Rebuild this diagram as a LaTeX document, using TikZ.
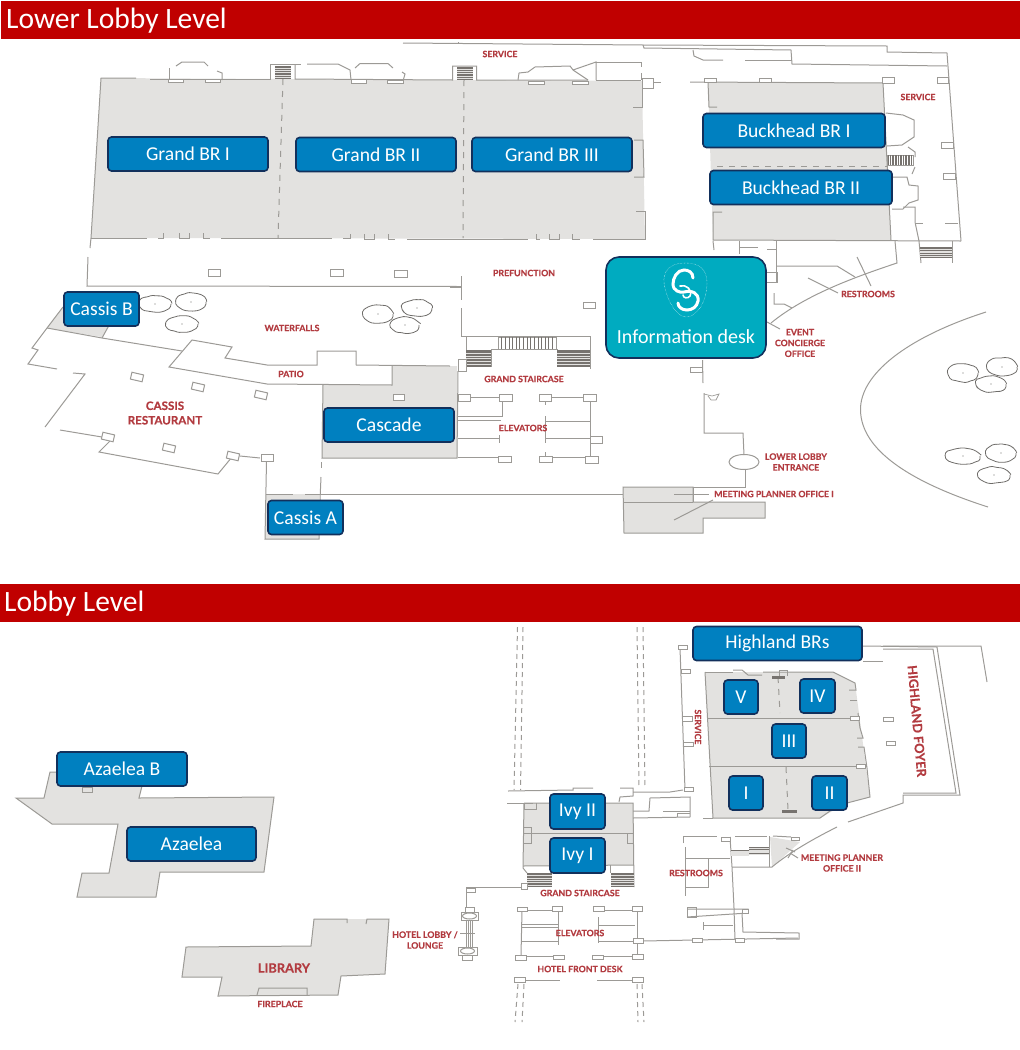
\documentclass[tikz,border=0pt]{standalone}
\usepackage{fontspec}
\setmainfont{Carlito}
\newfontfamily\tagfont{Lato}[BoldFeatures={FakeBold=0.5}]
\usetikzlibrary{decorations.pathmorphing}
\definecolor{bannerred}{HTML}{C00000}
\definecolor{roomblue}{HTML}{0080C0}
\definecolor{roomedge}{HTML}{12305C}
\definecolor{infoteal}{HTML}{00ABC0}
\definecolor{wallgrey}{HTML}{9C9A96}
\definecolor{treegrey}{HTML}{6E6C69}
\definecolor{hallgrey}{HTML}{E3E2E0}
\definecolor{stairgrey}{HTML}{77736F}
\definecolor{tagred}{HTML}{B23B40}
\tikzset{
  banner/.style={fill=bannerred},
  bannertext/.style={text=white,anchor=west,inner sep=0pt,font=\fontsize{29.5}{32}\selectfont},
  room/.style={draw=roomedge,fill=roomblue,line width=1.6pt,rounded corners=3.5pt,text=white,inner sep=0pt,font=\fontsize{19.6}{22}\selectfont},
  hall/.style={fill=hallgrey},
  wall/.style={draw=wallgrey,line width=1pt},
  dashwall/.style={wall,dash pattern=on 6pt off 6pt},
  rail/.style={wall,dash pattern=on 5pt off 4pt},
  post/.style={wall,fill=white},
  tiltpost/.style={draw=wallgrey,line width=1pt,fill=white,minimum width=12pt,minimum height=7pt,inner sep=0pt,rotate=-13},
  tag/.style={text=tagred,inner sep=0pt,align=center,font=\fontsize{8.8}{10.8}\tagfont\bfseries},
  bigtag/.style={tag,font=\fontsize{12.8}{15}\tagfont\bfseries},
}
\newcommand{\stairsh}[4]{%
  \fill[stairgrey] (#1,#2) rectangle (#3,#4);
  \foreach \t in {0.17,0.34,0.5,0.67,0.84}{\draw[hallgrey,line width=0.3pt] (#1,{#2+\t*(#4-#2)}) -- (#3,{#2+\t*(#4-#2)});}}
\newcommand{\stairsv}[4]{%
  \draw[wall] (#1,#2) rectangle (#3,#4);
  \foreach \t in {1,...,15}{\draw[stairgrey,line width=0.7pt] ({#1+\t*(#3-#1)/16},#2) -- ({#1+\t*(#3-#1)/16},#4);}}
\newcommand{\tree}[4]{%
  \draw[draw=treegrey,line width=0.8pt,rounded corners=1.5pt,decorate,decoration={random steps,segment length=4pt,amplitude=0.7pt}] (#1,#2) ellipse (#3 and #4);
  \fill[treegrey] (#1,#2) circle (0.7);}
\begin{document}
\begin{tikzpicture}[x=1pt,y=-1pt]
\useasboundingbox (0,0) rectangle (1020,1050);
% banners
\fill[banner] (1,1) rectangle (1020,39);
\fill[banner] (0,584) rectangle (1020,622);
\node[bannertext] (lowertitle) at (6,21) {Lower Lobby Level};
\node[bannertext] (lobbytitle) at (4,604) {Lobby Level};
% grey rooms, lower level
\fill[hall] (101,78) -- (642,81) -- (645,239) -- (91,238) -- cycle;
\fill[hall] (708,82) -- (883,83) -- (891,240) -- (713,240) -- cycle;
\fill[hall] (323,385) -- (392,385) -- (392,366) -- (457,366) -- (457,458) -- (322,458) -- cycle;
\fill[hall] (63,307) -- (47,328) -- (102,337) -- (112,320) -- cycle;
\fill[hall] (266,494) -- (319,494) -- (319,539) -- (265,539) -- cycle;
\draw[wall,hall] (623,487) -- (693,487) -- (693,502) -- (765,502) -- (765,518) -- (703,518) -- (703,533) -- (624,533) -- cycle;
% grand ballroom
\draw[wall] (136,78) -- (101,78) -- (91,238) -- (90,248);
\draw[wall] (88,257) -- (87,286) -- (461,286.5);
\draw[wall] (150,79) -- (270.5,79) -- (270.5,64) -- (301,64);
\draw[wall] (295,64) -- (295,79) -- (452.5,80) -- (452.5,66) -- (476.5,66) -- (476.5,80) -- (588,80);
\draw[wall] (91,238) -- (147,238);
\draw[wall] (163,233) -- (163,238) -- (158,238);
\draw[wall] (179,233) -- (179,238) -- (189,238) -- (189,233);
\draw[wall] (203,233) -- (203,238) -- (210,238);
\draw[wall] (221,238) -- (332,238);
\draw[wall] (350,234) -- (350,238) -- (343,238);
\draw[wall] (364,234) -- (364,239) -- (374,239) -- (374,234);
\draw[wall] (388,234) -- (388,239) -- (395,239);
\draw[wall] (407,239) -- (528,239);
\draw[wall] (536,234) -- (536,239) -- (540,239);
\draw[wall] (549,234) -- (549,239) -- (559,239) -- (559,234);
\draw[wall] (572,234) -- (572,239) -- (580,239);
\draw[wall] (593,239) -- (645,239) -- (645,211) -- (636,211);
\draw[wall] (634,140) -- (643,140) -- (644,177) -- (634,177);
\draw[wall] (642,88) -- (642,107) -- (633,107);
\draw[wall] (596,80) -- (641,80);
\draw[wall] (653,82) -- (661,82);
\draw[dashwall] (283,79) -- (278,238);
\draw[dashwall] (464,80) -- (463,238);
\stairsh{275}{66}{291}{79}
\stairsh{457}{67}{473}{80}
% ballroom doors
\draw[wall] (169,79) -- (169,68);
\draw[wall] (176,66) -- (182,62) -- (204,62) -- (208,66);
\draw[wall] (217,71) -- (222,73) -- (222,80);
\draw[wall] (307,64) -- (338,64) -- (350,70) -- (351,80);
\draw[wall] (355,68) -- (360,63.5) -- (388,63.5) -- (393,68);
\draw[wall] (402,72) -- (405,74) -- (403,81);
\draw[wall] (518,80) -- (519,73) -- (528,72) -- (535,67) -- (570,66) -- (573,70) -- (588,80);
\draw[wall] (573,70) -- (596,62) -- (596,80);
\draw[wall] (596,62) -- (641,62) -- (641,67);
\draw[wall] (641,73) -- (641,80);
% service corridor along the top
\draw[wall] (403,43) -- (643,45) -- (644,48) -- (791,50) -- (792,64) -- (947,66);
\draw[wall] (458,42) -- (458,44);
\draw[wall] (643,45) -- (887,46) -- (887,52) -- (947,53) -- (961,241);
\draw[wall] (693,50) -- (694,56) -- (703,60) -- (723,60);
\draw[wall] (745,60) -- (792,60);
% buckhead
\draw[wall] (690,82) -- (883,83) -- (891,240);
\draw[wall] (708,82) -- (709,107) -- (717,107);
\draw[wall] (722,212) -- (713,212) -- (713,240) -- (961,241);
\draw[dashwall] (717,166) -- (887,166);
\draw[wall] (886,113) -- (903,115) -- (914,120) -- (914,137) -- (902,145) -- (887,146);
\draw[wall] (908,147) -- (915,152) -- (915,157);
\stairsv{887}{155}{913}{165}
\draw[wall] (915,167) -- (912,174);
\draw[wall] (893,177) -- (907,177) -- (909,185) -- (918,186) -- (918,200) -- (909,203) -- (903,209) -- (892,209);
\draw[wall] (903,207) -- (915,207) -- (915,222) -- (919,241) -- (921,263);
\draw[wall] (915,223) -- (923,223);
\draw[wall] (945,223) -- (958,223);
\draw[wall] (952,241) -- (952,263);
\stairsh{920}{247}{952}{258}
% restrooms and the curved wall
\draw[wall] (713,241) -- (714,250);
\draw[wall] (739,241) -- (739,254);
\draw[wall] (739,247) -- (758,247);
\draw[wall] (767,249) -- (776,249);
\draw[wall] (776,241) -- (776,282);
\draw[wall] (767,272) -- (777,272) -- (777,282) -- (767,282);
\draw[wall] (777,266) -- (837,266) -- (855,277);
\draw[wall] (895,241) -- (897,263) .. controls (855,277) and (805,295) .. (771,323);
\draw[wall] (774,293) -- (774,304) -- (784,304) -- (792,308);
\draw[wall] (767,322) -- (780,329);
\draw[wall] (857,257) -- (871,286);
\draw[wall] (808,278) -- (838,293);
% grand staircase and elevators
\draw[wall] (461,276) -- (461,300);
\draw[wall] (450,287) -- (461,287);
\draw[wall] (461,308) -- (461,336) -- (590,336) -- (590,369);
\draw[wall] (466,336) -- (466,369);
\draw[wall] (491,349) -- (491,367);
\draw[wall] (491,349) -- (557,349) -- (557,367);
\stairsv{498}{337}{556}{349}
\stairsh{466}{350}{491}{367}
\stairsh{557}{350}{590}{367}
\draw[wall] (458,371) -- (457,458) -- (322,458) -- (323,385);
\draw[wall] (356,365) -- (450,366);
\draw[wall] (470,397) -- (499,397);
\draw[wall] (551,397) -- (583,397);
\draw[wall] (502,401) -- (502,416) -- (458,416);
\draw[wall] (458,420) -- (501,420);
\draw[wall] (458,438) -- (499,438);
\draw[wall] (499,435) -- (499,443);
\draw[wall] (458,457) -- (499,457);
\draw[wall] (545,401) -- (545,405);
\draw[wall] (545,416) -- (545,443);
\draw[wall] (545,421) -- (590,421);
\draw[wall] (545,438) -- (590,438);
\draw[wall] (590,401) -- (590,456);
\draw[wall] (545,452) -- (545,456);
\draw[wall] (552,457) -- (585,457);
% patio and waterfalls
\draw[wall] (356,365) -- (356,351) -- (317,351) -- (317,365) -- (267,365) -- (225,358) -- (232,347) -- (192,340) -- (169,367) -- (267,384) -- (392,385) -- (392,366);
\draw[wall] (47,328) -- (102,338) -- (182,351);
\draw[wall] (102,338) -- (112,320);
\draw[wall] (63,307) -- (47,328) -- (32,348) -- (38,350) -- (28,364) -- (57,369);
\draw[wall] (73,373) -- (85,374) -- (45,427);
\draw[wall] (60,430) -- (102,437);
\draw[wall] (110,441) -- (99,452) -- (218,474) -- (232,457);
\draw[wall] (240,456) -- (260,458);
\draw[wall] (266.5,461) -- (265,539) -- (319,539) -- (319,500);
\draw[wall] (266,494) -- (293,494);
\draw[wall] (305,494) -- (623,494);
\draw[wall] (321,462) -- (321,468);
\draw[wall] (321,477) -- (320,500);
\node[tiltpost] (pillara) at (137,377) {};
\node[tiltpost] (pillarb) at (198,387) {};
\node[tiltpost] (pillarc) at (261,395) {};
\node[tiltpost] (pillard) at (169,448) {};
\node[tiltpost] (pillare) at (108,437) {};
\node[tiltpost] (pillarf) at (233,456) {};
% lobby entrance
\draw[wall] (702.5,360) -- (703,383);
\draw[wall] (704,393) -- (704,433) -- (743,433) -- (744,455);
\draw[wall] (745,469) -- (745,487) -- (693,487);
\draw[wall] (744,462) ellipse (15 and 7.5);
\draw[wall,line width=0.7pt] (704,394) -- (712,396) -- (719,394) -- (716,400) -- (711,400) -- (708,396);
\draw[wall] (623,502) -- (693,502);
\draw[wall] (693,487) -- (693,502);
\draw[wall] (674,494) -- (709,494);
\draw[wall] (713,500) -- (674,520);
% driveway
\draw[wall] (986,312) .. controls (905,338) and (860,375) .. (860.5,410) .. controls (861,450) and (910,482) .. (988,507);
% small boxes, lower level
\foreach \xa/\ya/\xb/\yb in {168/79/183/82,205/79/220/82,351/79.5/366/83,387/80/403/83,528/81/544/84,572/81/588/84,642/78/653/88,
  208/269/220/276,330/269/343/276,394/270/407/277,583/302/595/308,704/78/716/82,759/78/771/82,882/77/894/83,937/77/948/83,941/142/953/148,943/173/955/179,
  393/394/404/400,458/359/466/371,458/394/470/401,499/394/512/401,539/394/551/401,583/394/596/401,590.5/436/602.5/443,498.5/456/511/462,539/456/552/462,585/456/598/463,
  690/367/702/372,261/454/273/461}
  \draw[post] (\xa,\ya) rectangle (\xb,\yb);
% trees
\tree{155}{304}{16}{8}
\tree{191}{302}{15}{9}
\tree{182}{324}{16}{8}
\tree{378}{314}{15}{9}
\tree{417}{308}{15}{8}
\tree{405}{325}{14}{8}
\tree{963}{373}{15}{9}
\tree{1002}{367}{15}{9}
\tree{991}{384}{15}{8}
\tree{963}{456}{17}{8}
\tree{1001}{453}{15}{9}
\tree{994}{475}{16}{8}
% lower level labels
\node[tag] (service1) at (500,54) {SERVICE};
\node[tag] (service2) at (918,97) {SERVICE};
\node[tag] (prefunction) at (524,273) {PREFUNCTION};
\node[tag] (waterfalls) at (292,328) {WATERFALLS};
\node[tag] (patio) at (291,374) {PATIO};
\node[bigtag,font=\fontsize{11.6}{14.5}\tagfont\bfseries] (cassisrest) at (165,413) {CASSIS\\RESTAURANT};
\node[tag] (staircase1) at (524,379) {GRAND STAIRCASE};
\node[tag] (elevators1) at (523,428) {ELEVATORS};
\node[tag] (restrooms1) at (868,294) {RESTROOMS};
\node[tag] (eventoffice) at (800,343) {EVENT\\CONCIERGE\\OFFICE};
\node[tag] (entrance) at (796,462) {LOWER LOBBY\\ENTRANCE};
\node[tag,anchor=west] (plannerone) at (714,494) {MEETING PLANNER OFFICE I};
% grey rooms, lobby level
\draw[wall,hall] (16,798) -- (44,798) -- (50,772) -- (60,772) -- (60,786) -- (142,786) -- (139,798) -- (274,797) -- (264,872) -- (160,872) -- (156,897) -- (77,897) -- (82,873) -- (109,873) -- (118,824) -- (52,824) -- cycle;
\fill[hall] (186,947) -- (311,946) -- (314,919) -- (389,919) -- (385,974) -- (341,976) -- (338,995) -- (218,996) -- (222,977) -- (182,977) -- cycle;
\draw[wall] (347,923) -- (347,919) -- (314,919) -- (311,946) -- (186,947) -- (182,977) -- (222,977) -- (218,996) -- (338,995) -- (341,976) -- (385,974) -- (389,919) -- (367,919) -- (366,924);
\draw[wall] (257,995) -- (259,988) -- (307,988) -- (307,995);
\draw[post,fill=hallgrey] (82,787) rectangle (92,792);
\fill[hall] (524,803) -- (633,803) -- (634,865) -- (523,866) -- cycle;
\fill[hall] (705,672) -- (833,672) -- (855,683) -- (870,797) -- (847,803) -- (820,818) -- (713,818) -- cycle;
\fill[hall] (770,837) -- (800,842) -- (772,867) -- cycle;
% hotel lobby column
\draw[wall] (510,887) -- (466,887) -- (466,907);
\draw[post] (466,888) rectangle (475,892);
\draw[post] (465,907) rectangle (474,913);
\draw[post] (461,912) rectangle (478,920);
\draw[wall] (469.5,916) ellipse (7 and 3);
\foreach \xb in {466,468,470,472}{\draw[wall] (\xb,920) -- (\xb,947);}
\draw[wall] (460,933) -- (475,933);
\draw[post] (458,947) rectangle (477,955);
\draw[wall] (467.5,951) ellipse (7 and 3);
\draw[post] (462,955) rectangle (472,960);
% rails
\draw[rail] (517.5,627) -- (514,790);
\draw[rail] (523,627) -- (520.5,790);
\draw[rail] (637,627) -- (639,788);
\draw[rail] (643,627) -- (645,788);
\draw[rail] (518,984) -- (515,1022);
\draw[rail] (524,984) -- (522,1022);
\draw[rail] (637,984) -- (638,1022);
\draw[rail] (642,984) -- (644,1022);
% ivy rooms
\draw[wall] (508,791) -- (573,790) -- (573,788) -- (593,788);
\draw[wall] (507,803) -- (533,803);
\draw[wall] (524,803) -- (523,868) -- (527,873);
\draw[wall] (524,803) -- (633,803) -- (634,887);
\draw[wall] (524,833) -- (633,833);
\draw[wall] (523,827) -- (531,827) -- (531,843) -- (523,843);
\draw[wall] (524,803) -- (524,809) -- (536,809) -- (536,803);
\draw[wall] (627,833) -- (627,843) -- (633,843);
\draw[wall] (523,866) -- (634,865);
\draw[wall] (610,865) -- (610,873);
\stairsh{527}{873}{552}{887}
\stairsh{611}{873}{634}{887}
\draw[wall] (522,887) -- (466,887);
\draw[post] (521,883) rectangle (527,889);
\draw[wall] (633,811) -- (649,811) -- (650,798) -- (690,797) -- (690,817);
\draw[wall] (633,818) -- (690,817);
\draw[wall] (619,802) -- (620,797) -- (633,796) -- (633,788) -- (620,788);
\draw[wall] (633,792) -- (670,792) -- (683,790);
\draw[wall] (663,811) -- (690,811);
\draw[wall] (677,817) -- (677,813) -- (690,813);
\draw[wall] (680,648) -- (685,790);
\draw[wall] (703,818) -- (713,818);
% highland ballrooms
\draw[wall] (705,672) -- (713,818) -- (820,818) -- (830,811) -- (847,803) -- (870,797) -- (867,768) -- (864,747) -- (858,747);
\draw[wall] (705,672) -- (733,672);
\draw[wall] (733,670) -- (742,670) -- (748,675) -- (762,675);
\draw[wall] (763,672) -- (833,672) -- (855,683) -- (856,690) -- (849,690);
\draw[wall] (857,700) -- (850,700);
\draw[wall] (858,713) -- (860,728) -- (863,738) -- (857,738);
\draw[wall] (707,718) -- (860,718);
\draw[wall] (709,766) -- (867,766);
\draw[dashwall] (778,677) -- (780,713);
\draw[dashwall] (786,767) -- (788,810);
\fill[stairgrey] (772,676) rectangle (785,678.5);
\fill[stairgrey] (782,810) rectangle (797,813);
\draw[wall] (779,676) -- (779,670) -- (787,670) -- (787,676);
% highland foyer
\draw[wall] (863,646) -- (937,647) -- (960,795) -- (903,795) -- (903,803) -- (848,822);
\draw[wall] (883,649) -- (933,649) -- (956,793) -- (903,793);
\draw[wall] (883,646) -- (981,646) -- (987,682);
\draw[wall] (863,661) -- (883,661);
\draw[wall] (837,827) .. controls (815,838) and (790,852) .. (772,867) -- (732,867);
% meeting planner and restrooms
\draw[wall] (683,843) -- (683,836) -- (717,836);
\draw[wall] (735,836) -- (767,836);
\draw[wall] (773,836) -- (791,837);
\draw[wall] (769,836) -- (769,867);
\draw[wall] (730,837) -- (732,867) -- (734,908) -- (735,940);
\stairsh{731}{850}{749}{856}
\stairsh{749}{847}{769}{855}
\draw[wall] (685,858) -- (730,858);
\draw[wall] (685,847) -- (685,896);
\draw[wall] (708,858) -- (708,887) -- (685,887);
\draw[wall] (786,848) -- (795,852);
\draw[wall] (788,858) -- (793,850);
\draw[wall] (790,853) -- (798,858);
\draw[post] (721,837) rectangle (730,841);
\draw[post] (791,837) rectangle (799,840);
\draw[post] (687,907) rectangle (696,917);
\draw[wall] (687,909) -- (748,909) -- (748,913) -- (687,917);
\draw[post] (742,909) rectangle (748,913);
\draw[wall] (742,913) -- (743,932) -- (799,933) -- (799,939) -- (776,939);
\draw[wall] (703,925) -- (733,925);
\draw[wall] (703,922) -- (703,930);
\draw[wall] (643,941) -- (798,938);
% elevators, lobby level
\draw[wall] (527,910) -- (552,910);
\draw[wall] (604,910) -- (632,910);
\draw[wall] (522,911) -- (521,955);
\draw[wall] (558,911) -- (558,945);
\draw[wall] (522,924) -- (558,924);
\draw[wall] (522,927) -- (558,927);
\draw[wall] (522,941) -- (558,941);
\draw[wall] (526,956) -- (553,956);
\draw[wall] (603,956) -- (632,956);
\draw[wall] (637,911) -- (637,954);
\draw[wall] (598,925) -- (635,925);
\draw[wall] (598,941) -- (633,941);
\draw[wall] (598,917) -- (598,943);
\draw[wall] (525,980) -- (560,980);
\draw[wall] (597,980) -- (632,980);
% small boxes, lobby level
\foreach \xa/\ya/\xb/\yb in {678/645/687/649,681/669/690/673,682/716/692/721,683/742/693/746,684/787/693/791,883/717/893/721,886/741/895/745,850/716/859/720,856/764/865/768,
  517/907/527/911,552/906/562/911,593/906/604/911,632/906/642/911,515/955/526/960,553/955/564/959,592/955/603/959,632/954/643/959,514/977/525/982,632/977/643/982,
  633/938/643/943,692/938/702/942,735/938/744/942}
  \draw[post] (\xa,\ya) rectangle (\xb,\yb);
% lobby level labels
\node[bigtag] (library) at (284,968) {LIBRARY};
\node[tag] (fireplace) at (280,1004) {FIREPLACE};
\node[tag] (lounge) at (425,940) {HOTEL LOBBY /\\LOUNGE};
\node[tag] (staircase2) at (580,893) {GRAND STAIRCASE};
\node[tag] (elevators2) at (580,933) {ELEVATORS};
\node[tag] (frontdesk) at (580,969) {HOTEL FRONT DESK};
\node[tag] (restrooms2) at (696,873) {RESTROOMS};
\node[tag,rotate=-90] (service3) at (698,727) {SERVICE};
\node[bigtag,rotate=-85] (foyer) at (917,721) {HIGHLAND FOYER};
\node[tag] (plannertwo) at (842,863) {MEETING PLANNER\\OFFICE II};
% information desk
\node[room,fill=infoteal,rounded corners=13pt,minimum width=160pt,minimum height=101pt] (infobox) at (686,307.5) {};
\node[text=white,inner sep=0pt,font=\fontsize{20}{22}\selectfont] (infotext) at (686,337) {Information desk};
\draw[white,line width=0.4pt,densely dotted] (686,263) .. controls (664,263) and (662,277) .. (665,288) .. controls (668,303) and (678,317) .. (686,317) .. controls (698,317) and (707,300) .. (707,283) .. controls (707,270) and (700,263) .. (686,263) -- cycle;
\draw[white,line width=3pt,line cap=round] (693,278) .. controls (693,272) and (688,270) .. (684,270) .. controls (677,270) and (673,278) .. (673,284) .. controls (673,291) and (680,293) .. (684,292) .. controls (692,290) and (699,293) .. (698,301) .. controls (697,307) and (692,310) .. (687,310) .. controls (682,310) and (678,307) .. (678,303);
\draw[white,line width=1.6pt,line cap=round] (680,286) .. controls (686,284) and (693,290) .. (690,296) .. controls (688,299) and (683,298) .. (683,295);
% rooms
\node[room,minimum width=160pt,minimum height=34pt] (grandone) at (188,154) {Grand BR I};
\node[room,minimum width=160pt,minimum height=34pt] (grandtwo) at (376,154.5) {Grand BR II};
\node[room,minimum width=160pt,minimum height=34pt] (grandthree) at (552,154.5) {Grand BR III};
\node[room,minimum width=182pt,minimum height=34pt] (buckone) at (794,130.5) {Buckhead BR I};
\node[room,minimum width=182pt,minimum height=34pt] (bucktwo) at (801,187.5) {Buckhead BR II};
\node[room,minimum width=75pt,minimum height=34pt] (cassisb) at (101.5,309) {Cassis B};
\node[room,minimum width=130pt,minimum height=34pt] (cascade) at (389,425) {Cascade};
\node[room,minimum width=75pt,minimum height=34pt] (cassisa) at (305.5,517.5) {Cassis A};
\node[room,minimum width=169pt,minimum height=34pt] (highland) at (777.5,643.5) {Highland BRs};
\node[room,minimum width=34pt,minimum height=34pt] (hlfive) at (741,697) {V};
\node[room,minimum width=35pt,minimum height=34pt] (hlfour) at (817.5,696) {IV};
\node[room,minimum width=34pt,minimum height=34pt] (hlthree) at (789,741) {III};
\node[room,minimum width=34pt,minimum height=34pt] (hlone) at (746,793) {I};
\node[room,minimum width=35pt,minimum height=34pt] (hltwo) at (829.5,793) {II};
\node[room,minimum width=55pt,minimum height=35pt] (ivytwo) at (577.5,811.5) {Ivy II};
\node[room,minimum width=55pt,minimum height=35pt] (ivyone) at (577.5,855.5) {Ivy I};
\node[room,minimum width=130pt,minimum height=34pt] (azaleab) at (122,769) {Azaelea B};
\node[room,minimum width=129pt,minimum height=34pt] (azalea) at (191.5,844) {Azaelea};
\end{tikzpicture}
\end{document}
